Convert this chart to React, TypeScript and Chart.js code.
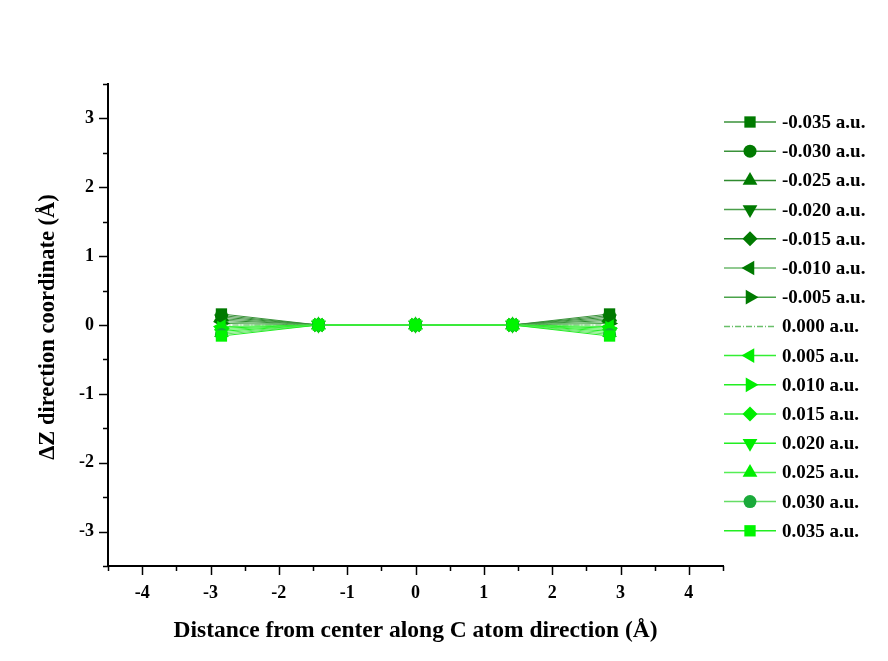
import React, { useEffect, useRef } from 'react';
import { Chart, registerables } from 'chart.js';
import { drawPoint } from 'chart.js/helpers';

Chart.register(...registerables);

// ---- data ----
const xPositions = [-2.84, -1.42, 0, 1.42, 2.84];
const fieldLabels = [
  '-0.035 a.u.', '-0.030 a.u.', '-0.025 a.u.', '-0.020 a.u.', '-0.015 a.u.',
  '-0.010 a.u.', '-0.005 a.u.', '0.000 a.u.', '0.005 a.u.', '0.010 a.u.',
  '0.015 a.u.', '0.020 a.u.', '0.025 a.u.', '0.030 a.u.', '0.035 a.u.',
];
const leftEdgeZ = [0.16, 0.137, 0.114, 0.091, 0.068, 0.046, 0.023, 0, -0.023, -0.046, -0.068, -0.091, -0.114, -0.137, -0.16];
const rightEdgeZ = [0.16, 0.137, 0.114, 0.091, 0.068, 0.046, 0.023, 0, -0.023, -0.046, -0.068, -0.091, -0.114, -0.137, -0.16];
const innerZ = [0, 0, 0];
const xTitle = 'Distance from center along C atom direction (Å)';
const yTitle = 'ΔZ direction coordinate (Å)';

// ---- styles ----
const pointStyles: any[] = ['rect', 'circle', 'triangle', 'triangle', 'rectRot', 'triangle', 'triangle', false,
  'triangle', 'triangle', 'rectRot', 'triangle', 'triangle', 'circle', 'rect'];
const rotations = [0, 0, 0, 180, 0, 270, 90, 0, 270, 90, 0, 180, 0, 0, 0];
const radii = [8, 6.5, 8.5, 8.5, 7.5, 8.5, 8.5, 0, 8.5, 8.5, 7.5, 8.5, 8.5, 6.5, 8];
const markerColors = ['#007a00', '#007a00', '#007a00', '#007a00', '#007a00', '#007a00', '#007a00', '#5cb85c',
  '#00ee00', '#00ee00', '#00ee00', '#00ee00', '#00ee00', '#1aaa3a', '#00f500'];
const lineColors = ['#3a923a', '#3a923a', '#2f8a2f', '#4a9e4a', '#2f8a2f', '#6db86d', '#4aa34a', '#6abf6a',
  '#33ee33', '#22ee22', '#44ee44', '#22ee22', '#55ee55', '#66dd66', '#22ee22'];

const FONT = '"Liberation Serif", "Times New Roman", serif';

const decorPlugin = {
  id: 'decor',
  afterDraw(chart: any) {
    const ctx = chart.ctx as CanvasRenderingContext2D;
    const xs = chart.scales.x;
    const ys = chart.scales.y;
    ctx.save();
    ctx.strokeStyle = '#000';
    ctx.lineWidth = 1.5;
    xs.ticks.forEach((t: any) => {
      const px = Math.round(xs.getPixelForValue(t.value)) + 0.5;
      const len = Number.isInteger(t.value) ? 9 : 5;
      ctx.beginPath();
      ctx.moveTo(px, xs.top);
      ctx.lineTo(px, xs.top + len);
      ctx.stroke();
    });
    ys.ticks.forEach((t: any) => {
      const py = Math.round(ys.getPixelForValue(t.value)) + 0.5;
      const len = Number.isInteger(t.value) ? 9 : 5;
      ctx.beginPath();
      ctx.moveTo(ys.right, py);
      ctx.lineTo(ys.right - len, py);
      ctx.stroke();
    });
    // axis titles
    ctx.fillStyle = '#000';
    ctx.textAlign = 'center';
    ctx.textBaseline = 'middle';
    ctx.font = 'bold 23.5px ' + FONT;
    ctx.fillText(xTitle, (xs.left + xs.right) / 2, 631);
    ctx.font = 'bold 22.5px ' + FONT;
    ctx.save();
    ctx.translate(48, (ys.top + ys.bottom) / 2 + 2);
    ctx.rotate(-Math.PI / 2);
    ctx.fillText(yTitle, 0, 0);
    ctx.restore();
    // legend
    ctx.font = 'bold 19px ' + FONT;
    ctx.textAlign = 'left';
    chart.data.datasets.forEach((ds: any, i: number) => {
      const y = 122 + i * 29.2;
      ctx.save();
      ctx.strokeStyle = ds.borderColor;
      ctx.lineWidth = 1.5;
      if (ds.borderDash && ds.borderDash.length) ctx.setLineDash(ds.borderDash);
      ctx.beginPath();
      ctx.moveTo(724, y);
      ctx.lineTo(776, y);
      ctx.stroke();
      ctx.setLineDash([]);
      if (ds.pointStyle) {
        ctx.fillStyle = ds.pointBackgroundColor;
        ctx.strokeStyle = ds.pointBorderColor;
        drawPoint(ctx, { pointStyle: ds.pointStyle, rotation: ds.pointRotation, radius: ds.pointRadius, borderWidth: 0 }, 750, y);
      }
      ctx.restore();
      ctx.fillStyle = '#000';
      ctx.textBaseline = 'middle';
      ctx.fillText(ds.label, 782, y + 1);
    });
    ctx.restore();
  },
};

export default function App() {
  const ref = useRef<HTMLCanvasElement | null>(null);
  useEffect(() => {
    if (!ref.current) return;
    const datasets = fieldLabels.map((label, i) => {
      const zs = [leftEdgeZ[i], ...innerZ, rightEdgeZ[i]];
      return {
        label,
        data: xPositions.map((x, k) => ({ x, y: zs[k] })),
        showLine: true,
        borderColor: lineColors[i],
        borderWidth: 1,
        borderDash: i === 7 ? [6, 2, 1, 2] : [],
        pointStyle: pointStyles[i],
        pointRotation: rotations[i],
        pointRadius: radii[i],
        pointBackgroundColor: markerColors[i],
        pointBorderColor: markerColors[i],
        pointBorderWidth: 0,
        order: fieldLabels.length - i,
      };
    });
    const tickFont = { family: FONT, weight: 'bold' as const, size: 18 };
    const chart = new Chart(ref.current, {
      type: 'scatter',
      data: { datasets },
      options: {
        responsive: false,
        animation: false,
        layout: { padding: { top: 84, right: 165, left: 0, bottom: 0 } },
        plugins: { legend: { display: false }, tooltip: { enabled: false } },
        scales: {
          x: {
            type: 'linear',
            min: -4.5,
            max: 4.5,
            afterFit: (s: any) => { s.height = 95; },
            border: { display: true, color: '#000', width: 2 },
            grid: { display: true, drawOnChartArea: false, drawTicks: true, tickLength: 10, tickColor: 'rgba(0,0,0,0)' },
            ticks: {
              stepSize: 0.5,
              autoSkip: false,
              maxRotation: 0,
              padding: 7,
              color: '#000',
              font: tickFont,
              callback: (v: any) => (Number.isInteger(Number(v)) ? String(v) : ''),
            },
          },
          y: {
            type: 'linear',
            min: -3.5,
            max: 3.5,
            afterFit: (s: any) => { s.width = 108; },
            border: { display: true, color: '#000', width: 2 },
            grid: { display: true, drawOnChartArea: false, drawTicks: true, tickLength: 8, tickColor: 'rgba(0,0,0,0)' },
            ticks: {
              stepSize: 0.5,
              autoSkip: false,
              padding: 6,
              color: '#000',
              font: tickFont,
              callback: (v: any) => (Number.isInteger(Number(v)) ? String(v) : ''),
            },
          },
        },
      },
      plugins: [decorPlugin],
    });
    return () => chart.destroy();
  }, []);
  return (
    <div style={{ position: 'absolute', left: 0, top: 0, width: 888, height: 661, background: '#fff' }}>
      <canvas ref={ref} width={888} height={661} />
    </div>
  );
}
